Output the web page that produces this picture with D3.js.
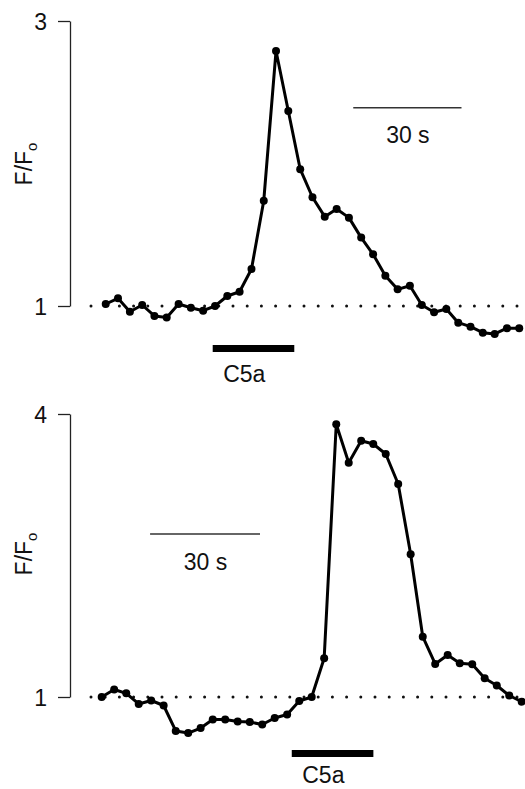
<!DOCTYPE html>
<html>
<head>
<meta charset="utf-8">
<script src="https://cdn.jsdelivr.net/npm/d3@7"></script>
<style>
  html, body { margin: 0; padding: 0; background: #fff; }
  svg { display: block; }
  text { font-family: "Liberation Sans", Arial, Helvetica, sans-serif; fill: #111; }
</style>
</head>
<body>
<svg id="chart" width="525" height="789"></svg>
<script>
// ---- Data (time in seconds, F/Fo ratio) ----
const time = [0, 3.4, 6.7, 10.1, 13.5, 16.9, 20.2, 23.6, 27.0, 30.3, 33.7, 37.1, 40.4, 43.8, 47.2,
  50.6, 53.9, 57.3, 60.7, 64.0, 67.4, 70.8, 74.1, 77.5, 80.9, 84.3, 87.6, 91.0, 94.4, 97.7,
  101.1, 104.5, 107.8, 111.2, 114.6];

const topValues = [1.014, 1.054, 0.96, 1.007, 0.93, 0.92, 1.014, 0.988, 0.967, 1.0, 1.07, 1.10,
  1.26, 1.739, 2.79, 2.368, 1.96, 1.763, 1.627, 1.681, 1.62, 1.48, 1.363, 1.213, 1.117, 1.142,
  1.007, 0.956, 0.979, 0.883, 0.855, 0.813, 0.804, 0.844, 0.844];

const bottomValues = [1.0, 1.08, 1.039, 0.926, 0.963, 0.91, 0.64, 0.618, 0.671, 0.761, 0.761,
  0.74, 0.735, 0.708, 0.777, 0.814, 0.958, 1.0, 1.41, 3.891, 3.484, 3.717, 3.682, 3.576, 3.258,
  2.513, 1.639, 1.35, 1.445, 1.357, 1.347, 1.198, 1.122, 1.016, 0.95];

const topTicks = [1, 3];
const bottomTicks = [1, 4];
const baselineValue = 1;
const stimulusLabel = "C5a";
const topStimulus = [29.65, 52.26];     // seconds
const bottomStimulus = [51.86, 74.13];  // seconds
const scaleBarSeconds = 30;
const scaleBarLabel = "30 s";
const topScaleBarStart = 68.6;
const bottomScaleBarStart = 13.2;

// ---- Drawing ----
const svg = d3.select("#chart");
const W = 525;

function panel(cfg) {
  const g = svg.append("g");
  const x = d3.scaleLinear().domain(cfg.xDomain).range([70, W]);
  const y = d3.scaleLinear().domain(cfg.yDomain).range(cfg.yRange);

  // axis
  const axis = d3.axisLeft(y).tickValues(cfg.ticks).tickSize(12).tickSizeOuter(0).tickPadding(11)
    .tickFormat(d3.format("d"));
  const ag = g.append("g").attr("transform", "translate(70,0)").call(axis);
  ag.select(".domain").attr("stroke", "#222").attr("stroke-width", 1.3);
  ag.selectAll(".tick line").attr("stroke", "#222").attr("stroke-width", 1.3);
  ag.selectAll(".tick text").attr("font-size", 23).attr("fill", "#111")
    .attr("font-family", "'Liberation Sans', Arial, sans-serif").attr("dy", "0.35em");

  // y label F/Fo
  const lab = g.append("text")
    .attr("transform", `translate(32,${cfg.labelY}) rotate(-90)`)
    .attr("text-anchor", "middle")
    .attr("font-size", 23);
  lab.append("tspan").text("F/F");
  lab.append("tspan").attr("font-size", 15).attr("dy", 5).text("o");

  // dotted baseline
  g.append("line")
    .attr("x1", 91).attr("x2", W)
    .attr("y1", y(baselineValue)).attr("y2", y(baselineValue))
    .attr("stroke", "#111").attr("stroke-width", 3)
    .attr("stroke-linecap", "round").attr("stroke-dasharray", "0 14.2");

  // data line
  const data = time.map((t, i) => [t, cfg.values[i]]);
  g.append("path")
    .datum(data)
    .attr("fill", "none")
    .attr("stroke", "#000")
    .attr("stroke-width", 3)
    .attr("stroke-linejoin", "round")
    .attr("d", d3.line().x(d => x(d[0])).y(d => y(d[1])));
  g.selectAll("circle.pt").data(data).join("circle")
    .attr("class", "pt")
    .attr("cx", d => x(d[0])).attr("cy", d => y(d[1])).attr("r", 4)
    .attr("fill", "#000");

  // scale bar
  g.append("line")
    .attr("x1", x(cfg.scaleStart)).attr("x2", x(cfg.scaleStart + scaleBarSeconds))
    .attr("y1", cfg.scaleY).attr("y2", cfg.scaleY)
    .attr("stroke", "#333").attr("stroke-width", 1.6);
  g.append("text")
    .attr("x", (x(cfg.scaleStart) + x(cfg.scaleStart + scaleBarSeconds)) / 2 + 0.5)
    .attr("y", cfg.scaleY + 35.5)
    .attr("text-anchor", "middle").attr("font-size", 23)
    .text(scaleBarLabel);

  // stimulus bar
  g.append("line")
    .attr("x1", x(cfg.stim[0])).attr("x2", x(cfg.stim[1]))
    .attr("y1", cfg.stimY).attr("y2", cfg.stimY)
    .attr("stroke", "#000").attr("stroke-width", 7);
  g.append("text")
    .attr("x", x(cfg.stim[0]) + 10.5)
    .attr("y", cfg.stimTextY)
    .attr("font-size", 23)
    .text(stimulusLabel);
}

panel({
  xDomain: [-9.9, 116.2], yDomain: [1, 3], yRange: [306, 21], ticks: topTicks,
  values: topValues, labelY: 164,
  scaleStart: topScaleBarStart, scaleY: 107.7,
  stim: topStimulus, stimY: 348.5, stimTextY: 382
});

panel({
  xDomain: [-8.65, 115.5], yDomain: [1, 4], yRange: [697, 414], ticks: bottomTicks,
  values: bottomValues, labelY: 554,
  scaleStart: bottomScaleBarStart, scaleY: 534,
  stim: bottomStimulus, stimY: 753.5, stimTextY: 783
});
</script>
</body>
</html>
